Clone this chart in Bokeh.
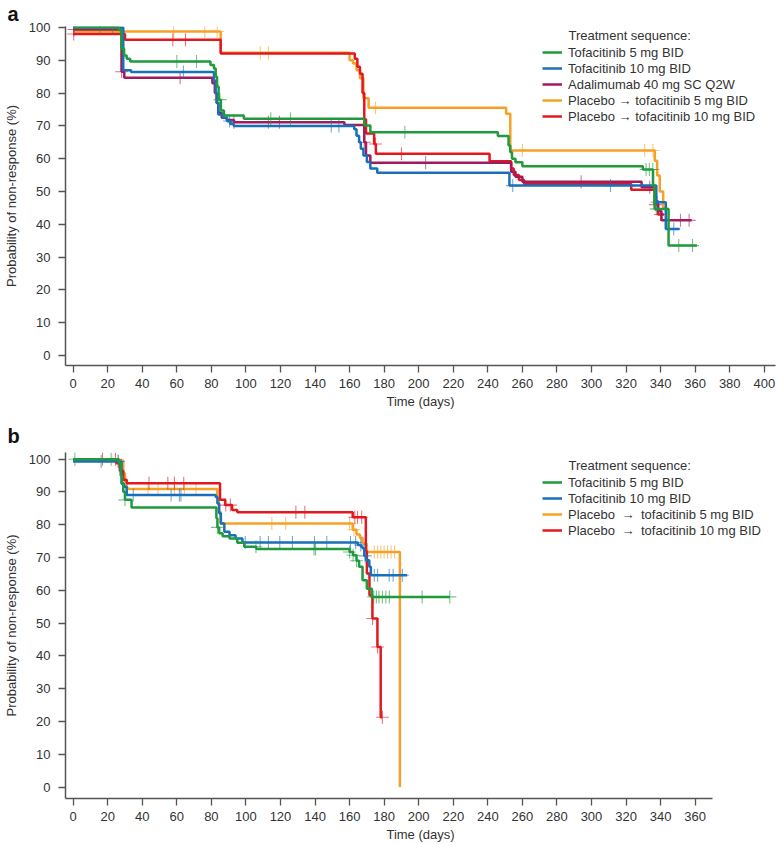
import numpy as np
from bokeh.plotting import figure
from bokeh.models import Range1d, Legend, LegendItem, Label, FixedTicker
from bokeh.layouts import column
from bokeh.embed import file_html
from bokeh.resources import INLINE

FONT = "Liberation Sans"
TXT = "#333333"
AXC = "#555555"

# ---------------- data: panel a ----------------
a_labels = ["Tofacitinib 5 mg BID", "Tofacitinib 10 mg BID", "Adalimumab 40 mg SC Q2W",
            "Placebo \u2192 tofacitinib 5 mg BID", "Placebo \u2192 tofacitinib 10 mg BID"]

a_tofa5_t = [0, 26.5, 28, 29.5, 31, 33, 79.5, 81.5, 82.5, 83.3, 84.2, 85.5, 87.3, 98.8, 168.5, 172,
             245.8, 252, 253, 254, 256, 260, 329.7, 335.6, 336.5, 344.6, 361]
a_tofa5_v = [100, 99.2, 93.5, 91.5, 90.5, 89.6, 88.6, 87.5, 85, 82, 78, 74.7, 73.2, 72.2, 70.1, 68.1,
             66.9, 64, 62, 60, 58.9, 57.7, 56.7, 52, 44.7, 33.5, 33.5]
a_tofa5_c = [15.7, 22.7, 60, 71.4, 85, 114.4, 125.8, 192, 331.6, 333.5, 335.5, 337.5, 350.5, 358.5]

a_tofa10_t = [0, 29, 33.5, 81.5, 82.5, 83.3, 84, 86.5, 89, 91, 93, 162.7, 164, 165.5, 166.5, 168, 170,
              172, 176, 252.5, 337.5, 343, 351]
a_tofa10_v = [100, 87.0, 86.4, 83.8, 80, 77, 73.5, 72.5, 71.5, 70.6, 70.0, 69, 67, 65, 63, 61, 59,
              57, 55.7, 51.8, 46.7, 38.6, 38.6]
a_tofa10_c = [63.8, 90.5, 149.4, 153.8, 254.4, 311, 338, 347.6]

a_ada_t = [0, 28, 29.6, 80.6, 82, 83, 84, 86, 89, 93, 157, 168.5, 169.5, 172, 253.5, 256, 260, 329,
           337, 338.5, 340.5, 358]
a_ada_v = [99.4, 86.5, 84.7, 83, 80, 77, 74, 72.5, 71.8, 71.1, 70.3, 65, 61, 58.8, 56, 54.5, 53.0,
           51.3, 47, 44, 41.2, 41.2]
a_ada_c = [0.5, 28.1, 61.9, 93, 113, 119.4, 168.5, 204, 294, 333.7, 351.5, 356.5]

a_pla5_t = [0, 85.4, 160, 162, 164, 166, 168, 171, 250.6, 253, 336.6, 338, 339.5, 341.5, 344]
a_pla5_v = [98.8, 92.3, 90, 89, 87, 84.5, 78.4, 75.5, 73.7, 62.5, 59.4, 54.9, 50, 45, 45]
a_pla5_c = [58.2, 76.2, 83.4, 108.3, 113, 175, 260, 330.8, 335.6]

a_pla10_t = [0, 30, 85.4, 163, 164.5, 166, 167.5, 168.5, 169.5, 174.2, 175.2, 241, 253.5, 255, 258,
             261, 323, 336.5, 338.5, 342]
a_pla10_v = [98.0, 96.3, 92.1, 90.5, 88, 85.9, 80, 72, 67.7, 64.5, 61.5, 59.2, 57, 55, 53.5, 52.3,
             50.5, 46, 43, 43]
a_pla10_c = [0.3, 57.7, 65, 175, 190, 337, 340]

# ---------------- data: panel b ----------------
b_labels = ["Tofacitinib 5 mg BID", "Tofacitinib 10 mg BID",
            "Placebo\u2002\u2192\u2002tofacitinib 5 mg BID", "Placebo\u2002\u2192\u2002tofacitinib 10 mg BID"]

b_tofa5_t = [0, 26.5, 27.5, 28.3, 29, 30, 33.8, 82.9, 83.5, 84.5, 86.5, 90.5, 95, 99, 106, 160, 162,
             164, 165.5, 167.5, 170, 172.9, 218]
b_tofa5_v = [100, 98.8, 95, 92.8, 90.1, 87.6, 85.3, 82, 79.2, 77.4, 76.5, 75.8, 74.5, 73.3, 72.6,
             71.7, 70.7, 69, 67.2, 63.1, 60.5, 58.0, 58.0]
b_tofa5_c = [1, 22, 30, 83.5, 105.8, 139.4, 140.3, 160, 162, 164, 174, 175.5, 177, 179, 181, 183, 202, 218]

b_tofa10_t = [0, 28, 29.5, 31, 82.5, 83.5, 84.5, 85.5, 87.5, 90.5, 94, 98, 164.8, 166.6, 167.5,
              168.5, 169.5, 171.4, 172.3, 193.3]
b_tofa10_v = [99.3, 92.5, 91.6, 89.1, 88.5, 86.5, 83.5, 80.4, 77.9, 76.8, 75.8, 74.6, 73.8, 73.3,
              72.8, 70.5, 69.2, 67.2, 64.6, 64.6]
b_tofa10_c = [16.2, 26.2, 34.8, 56.7, 61.5, 62.4, 99.6, 108.2, 113, 119.6, 126.9, 139.7, 146.8,
              160.5, 163.5, 166.5, 169, 174.3, 176.2, 182.9, 185.2, 190.5]

b_pla5_t = [0, 29, 30, 31, 32, 83.4, 84.3, 85.3, 161.8, 164, 166, 167.5, 169.8, 189.1]
b_pla5_v = [99.6, 95.7, 93.2, 91.1, 90.9, 88, 84, 80.4, 78.5, 77, 76, 74.3, 71.7, 0]
b_pla5_c = [25.8, 43.3, 49.1, 58.6, 64.4, 71.1, 115, 123, 160, 162.5, 174.3, 176.2, 178.1, 180,
            182, 184, 186]

b_pla10_t = [0, 25, 27, 29, 31, 85, 88, 92, 95, 161.8, 169.4, 170, 171.5, 173.2, 176.1, 178, 179]
b_pla10_v = [100, 98.8, 96.5, 93.7, 92.7, 87.6, 86.0, 84.5, 83.8, 82.3, 72, 65.1, 58.5, 51.4, 42.7,
             21.3, 21.3]
b_pla10_c = [17, 24.5, 43.9, 54.8, 58.6, 64, 88.3, 91, 128.9, 134.1, 163, 164.6, 167, 173.3, 176.2, 179]

x_ticks_a = list(range(0, 401, 20))
x_ticks_b = list(range(0, 361, 20))
y_ticks = list(range(0, 101, 10))

GREEN = "#1f9a3c"
BLUE = "#1a6fba"
PURPLE = "#a01c5e"
ORANGE = "#f6a126"
RED = "#e3181f"

WIDTH = 777
LEFT = 60
RIGHT = 2
PX_PER_DAY = 1.74
X0 = -7.7 / PX_PER_DAY
X1 = X0 + (WIDTH - LEFT - RIGHT) / PX_PER_DAY


def step_at(ts, vs, t):
    ts = np.asarray(ts)
    vs = np.asarray(vs)
    idx = np.searchsorted(ts, np.asarray(t), side="right") - 1
    idx = np.clip(idx, 0, len(vs) - 1)
    return vs[idx]


def make_fig(height, top, bottom, y0, y1, xticks, letter, title_valign, title_standoff):
    p = figure(width=WIDTH, height=height, x_range=Range1d(X0, X1), y_range=Range1d(y0, y1),
               output_backend="svg", toolbar_location=None,
               min_border_left=LEFT, min_border_right=RIGHT,
               min_border_top=top, min_border_bottom=bottom,
               title=letter)
    p.title.text_font = FONT
    p.title.text_font_size = "20px"
    p.title.text_font_style = "bold"
    p.title.text_color = "#111111"
    p.title.align = "left"
    p.title.offset = -58
    p.title.standoff = title_standoff
    p.title.vertical_align = title_valign
    p.outline_line_color = None
    p.grid.visible = False
    p.xaxis.ticker = FixedTicker(ticks=xticks)
    p.yaxis.ticker = FixedTicker(ticks=y_ticks)
    for ax in (p.xaxis[0], p.yaxis[0]):
        ax.axis_line_color = AXC
        ax.axis_line_width = 1.5
        ax.major_tick_line_color = AXC
        ax.major_tick_line_width = 1.3
        ax.major_tick_out = 7
        ax.major_tick_in = 0
        ax.minor_tick_line_color = None
        ax.major_label_text_font = FONT
        ax.major_label_text_font_size = "13px"
        ax.major_label_text_color = TXT
        ax.axis_label_text_font = FONT
        ax.axis_label_text_font_size = "13px"
        ax.axis_label_text_font_style = "normal"
        ax.axis_label_text_color = TXT
    p.xaxis.axis_label = "Time (days)"
    p.xaxis.major_label_standoff = 6
    p.xaxis.axis_label_standoff = 3
    p.yaxis.axis_label = "Probability of non-response (%)"
    p.yaxis.major_label_standoff = 8
    p.yaxis.axis_label_standoff = 7
    return p


def add_series(p, series, labels, legend_xy, title_xy):
    renderers = {}
    draw_order = [3, 4, 2, 1, 0] if len(series) == 5 else [2, 3, 1, 0]
    for i in draw_order:
        ts, vs, cs, color = series[i]
        r = p.step(ts, vs, mode="after", line_color=color, line_width=2.5)
        cy = step_at(ts, vs, cs)
        p.scatter(cs, cy, marker="cross", size=13, line_color=color, line_width=1.1, line_alpha=0.6)
        renderers[i] = r
    items = [LegendItem(label=labels[i], renderers=[renderers[i]]) for i in range(len(series))]
    leg = Legend(items=items, location=legend_xy, glyph_width=20, glyph_height=16, label_height=16,
                 spacing=0, padding=0, margin=0, label_standoff=6,
                 border_line_color=None, background_fill_alpha=0,
                 label_text_font=FONT, label_text_font_size="13px", label_text_color=TXT)
    p.add_layout(leg)
    p.add_layout(Label(x=title_xy[0], y=title_xy[1], x_units="screen", y_units="screen",
                       text="Treatment sequence:", text_font=FONT, text_font_size="13px",
                       text_color=TXT, text_baseline="middle"))


# panel a: frame from y=26 to y=365 (339 px), 3.28 px per unit, 100 at y=27
fa = make_fig(414, 26, 49, -10 / 3.28, 100 + 1 / 3.28, x_ticks_a, "a", "top", 0)
series_a = [(a_tofa5_t, a_tofa5_v, a_tofa5_c, GREEN),
            (a_tofa10_t, a_tofa10_v, a_tofa10_c, BLUE),
            (a_ada_t, a_ada_v, a_ada_c, PURPLE),
            (a_pla5_t, a_pla5_v, a_pla5_c, ORANGE),
            (a_pla10_t, a_pla10_v, a_pla10_c, RED)]
add_series(fa, series_a, a_labels, (477, 241), (503, 330))

# panel b: frame from y=452 to y=798 (346 px)
fb = make_fig(430, 38, 46, -11.5 / 3.278, 100 + 6.7 / 3.278, x_ticks_b, "b", "bottom", 12)
fb.xaxis.bounds = (X0, 370)
series_b = [(b_tofa5_t, b_tofa5_v, b_tofa5_c, GREEN),
            (b_tofa10_t, b_tofa10_v, b_tofa10_c, BLUE),
            (b_pla5_t, b_pla5_v, b_pla5_c, ORANGE),
            (b_pla10_t, b_pla10_v, b_pla10_c, RED)]
add_series(fb, series_b, b_labels, (477, 260), (503, 333))

layout = column(fa, fb, spacing=0)
open("out.html", "w").write(file_html(layout, INLINE))
